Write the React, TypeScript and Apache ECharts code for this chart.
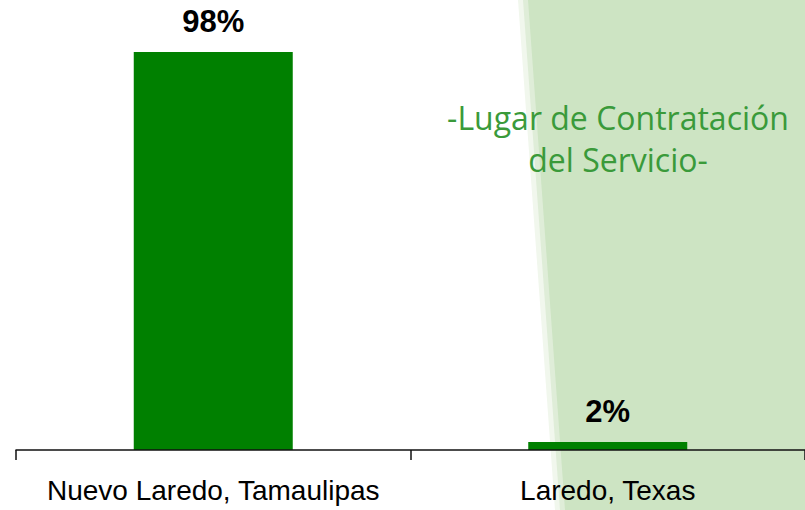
import React, { useEffect, useRef } from "react";
import * as echarts from "echarts";

const categories = ["Nuevo Laredo, Tamaulipas", "Laredo, Texas"];
const values = [98, 2];
const titleLines = ["-Lugar de Contratación", "del Servicio-"];

export default function App() {
  const ref = useRef<HTMLDivElement>(null);
  useEffect(() => {
    if (!ref.current) return;
    const chart = echarts.init(ref.current, null, { renderer: "svg" });
    chart.setOption({
      animation: false,
      backgroundColor: "#ffffff",
      grid: { left: 16, right: 0, top: 44, bottom: 60, containLabel: false },
      xAxis: {
        type: "category",
        data: categories,
        axisLine: { show: true, lineStyle: { color: "#111", width: 1.5 } },
        axisTick: { show: true, length: 10, lineStyle: { color: "#111", width: 1.5 } },
        axisLabel: {
          interval: 0,
          color: "#000",
          fontSize: 28,
          fontFamily: "Liberation Sans, Arial, sans-serif",
          margin: 26,
        },
        z: 10,
      },
      yAxis: { type: "value", min: 0, max: 100, show: false, splitLine: { show: false } },
      graphic: [
        {
          type: "polygon",
          z: -100,
          silent: true,
          shape: { points: [[518, 0], [805, 0], [805, 510], [555, 510]] },
          style: { fill: "#f1f7ed" },
        },
        {
          type: "polygon",
          z: -99,
          silent: true,
          shape: { points: [[523, 0], [805, 0], [805, 510], [560, 510]] },
          style: { fill: "#dfedd8" },
        },
        {
          type: "polygon",
          z: -98,
          silent: true,
          shape: { points: [[528, 0], [805, 0], [805, 510], [565, 510]] },
          style: { fill: "#cde4c3" },
        },
        {
          type: "text",
          z: -90,
          silent: true,
          x: 618,
          y: 96,
          style: {
            text: titleLines.join("\n"),
            fill: "#3a9a3a",
            font: "32px 'Open Sans', 'Noto Sans', sans-serif",
            textAlign: "center",
            textVerticalAlign: "top",
            lineHeight: 42,
          },
        },
      ],
      series: [
        {
          type: "bar",
          data: values,
          barWidth: 159,
          itemStyle: { color: "#008000" },
          z: 5,
          label: {
            show: true,
            position: "top",
            distance: 15,
            formatter: "{c}%",
            color: "#000",
            fontSize: 31,
            fontWeight: "bold",
            fontFamily: "Liberation Sans, Arial, sans-serif",
          },
        },
      ],
    });
    return () => chart.dispose();
  }, []);
  return (
    <div
      ref={ref}
      style={{ position: "fixed", left: 0, top: 0, width: 805, height: 510 }}
    />
  );
}
